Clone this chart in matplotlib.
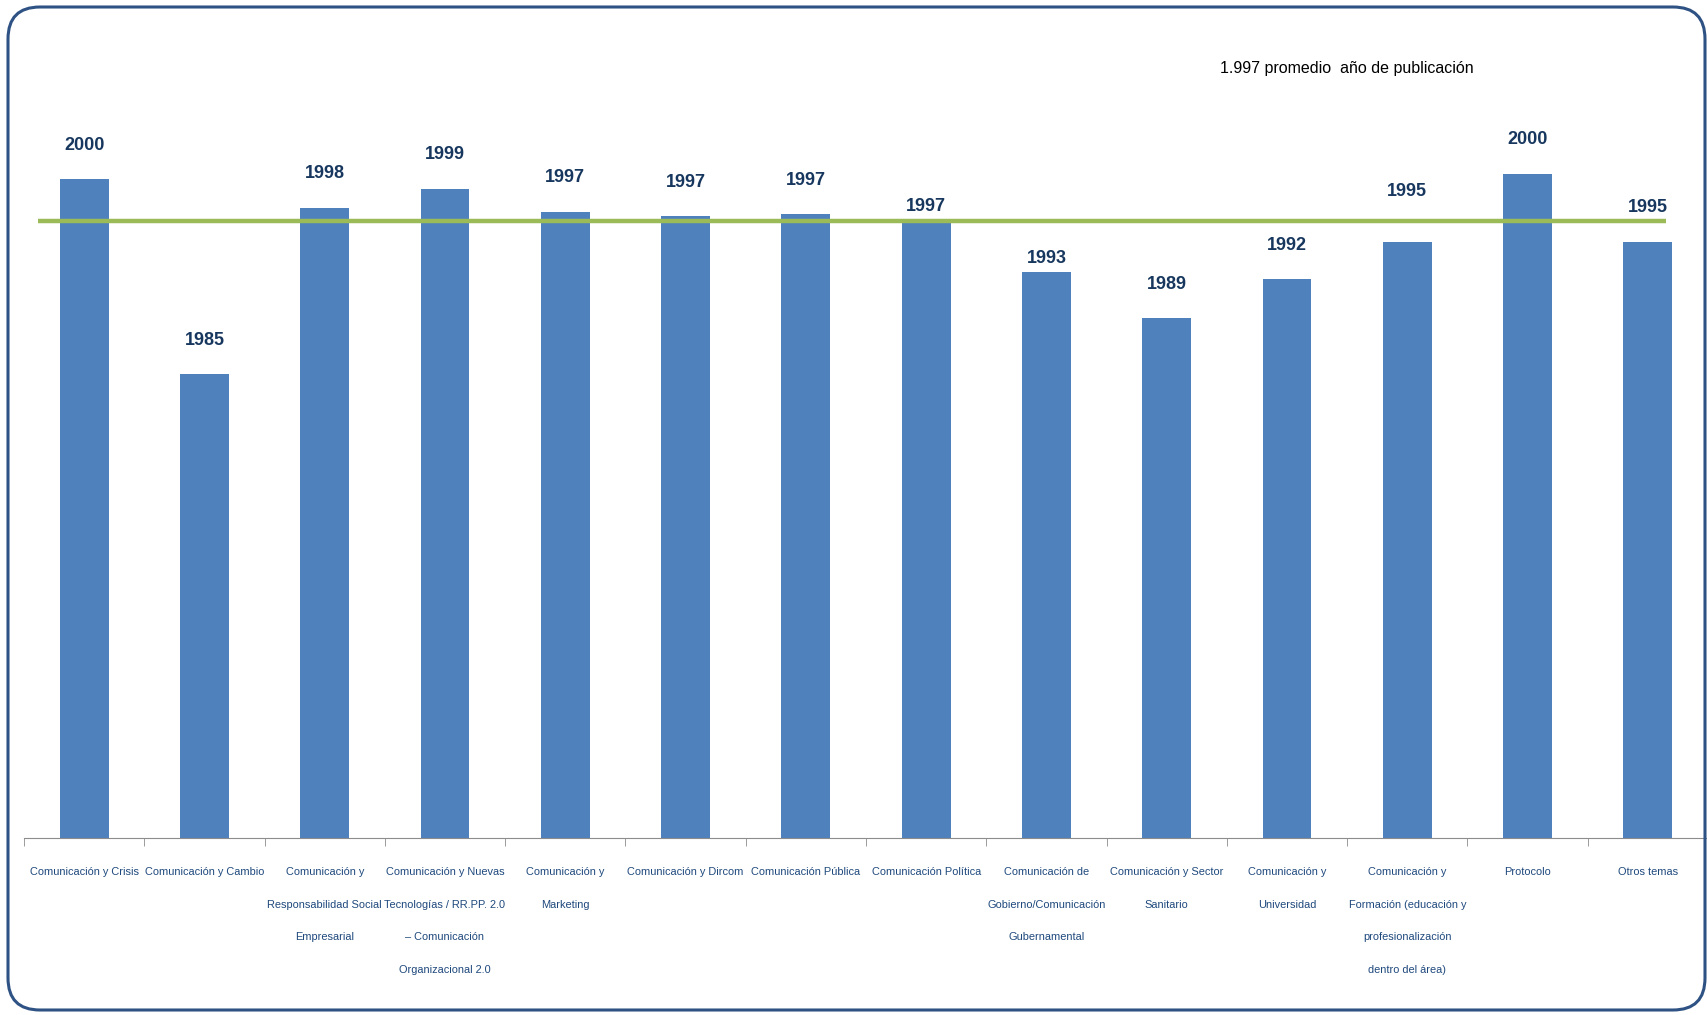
import numpy as np
import matplotlib.pyplot as plt
import matplotlib.patches as mpatches
from matplotlib.transforms import IdentityTransform

plt.rcParams['font.family'] = ['Liberation Sans', 'DejaVu Sans']

# datos: año medio de publicación por tema
categorias = [
    "Comunicación y Crisis",
    "Comunicación y Cambio",
    "Comunicación y\nResponsabilidad Social\nEmpresarial",
    "Comunicación y Nuevas\nTecnologías / RR.PP. 2.0\n– Comunicación\nOrganizacional 2.0",
    "Comunicación y\nMarketing",
    "Comunicación y Dircom",
    "Comunicación Pública",
    "Comunicación Política",
    "Comunicación de\nGobierno/Comunicación\nGubernamental",
    "Comunicación y Sector\nSanitario",
    "Comunicación y\nUniversidad",
    "Comunicación y\nFormación (educación y\nprofesionalización\ndentro del área)",
    "Protocolo",
    "Otros temas",
]
valores = [1999.9, 1984.9, 1997.7, 1999.15, 1997.4, 1997.05, 1997.2,
           1996.6, 1992.75, 1989.2, 1992.2, 1995.1, 2000.3, 1995.1]
promedio = 1996.7
titulo = "1.997 promedio  año de publicación"

W, H = 1707, 1015
fig = plt.figure(figsize=(W / 100, H / 100), dpi=100)
ax = fig.add_axes([24 / W, 1 - 838.3 / H, 1684 / W, (838.3 - 100) / H])

x = np.arange(len(valores))
ax.bar(x, valores, width=0.405, color='#4F81BD', zorder=2)
ax.set_ylim(1949.2, 1949.2 + (838.3 - 100) / 13)
ax.set_xlim(-0.5, len(valores) - 0.5)

# linea del promedio
ax.hlines(promedio, -0.384, 13.15, color='#9BBB59', lw=3.2, zorder=3)

# etiquetas de valor (algunas desplazadas como en el original)
desplaz = {7: 11, 8: 10, 11: 36}
for i, v in enumerate(valores):
    ax.annotate(f'{round(v)}', (i, v), xytext=(0, desplaz.get(i, 24.5)),
                textcoords='offset points', ha='center', va='center',
                fontsize=13, fontweight='bold', color='#17375E', zorder=4)

# ejes
for s in ['left', 'top', 'right']:
    ax.spines[s].set_visible(False)
ax.spines['bottom'].set_color('#8C8C8C')
ax.set_yticks([])
ax.set_xticks(x)
ax.set_xticklabels(categorias, fontsize=7.9, color='#1F497D', linespacing=3.8, va='top')
ax.tick_params(axis='x', which='major', length=0, pad=21)
ax.set_xticks(np.arange(-0.5, len(valores)), minor=True)
ax.tick_params(axis='x', which='minor', length=6, color='#8C8C8C')

fig.text(1347 / W, 1 - 69 / H, titulo, ha='center', va='center',
         fontsize=11.5, color='black')

# marco redondeado
marco = mpatches.FancyBboxPatch((8, 5), 1697, 1003,
                                boxstyle='round,pad=0,rounding_size=32',
                                fill=False, ec='#2E5283', lw=2.2,
                                transform=IdentityTransform())
fig.add_artist(marco)

fig.savefig('out.png', dpi=100)
